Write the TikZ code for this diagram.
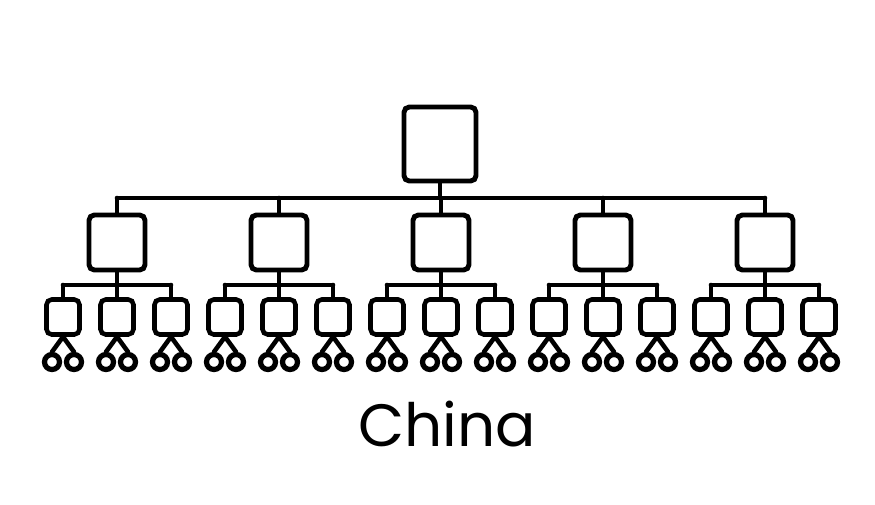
\documentclass[tikz,border=0pt]{standalone}
\usepackage{fontspec}
\setsansfont{Poppins}

\begin{document}
\begin{tikzpicture}[x=0.02cm, y=-0.02cm, line width=2.6pt, line cap=round,
  headbox/.style={draw, rectangle, rounded corners=3pt, line width=2.8pt, minimum width=1.44cm, minimum height=1.48cm},
  branchbox/.style={draw, rectangle, rounded corners=3pt, line width=2.8pt, minimum width=1.12cm, minimum height=1.1cm},
  twigbox/.style={draw, rectangle, rounded corners=3pt, minimum width=0.66cm, minimum height=0.7cm},
  leaf/.style={draw, circle, inner sep=0pt, line width=3pt, minimum size=0.3cm}]
  \useasboundingbox (0,0) rectangle (875,504);
  \coordinate (bus) at (0,198);
  \coordinate (rail) at (0,285);
  \node[headbox] (head) at (440,144) {};
  \draw (head.south) -- (head |- bus);
  \foreach \p in {1,...,5} {
    \node[branchbox] (b\p) at ({117+162*(\p-1)},242.5) {};
    \draw (b\p.north) -- (b\p |- bus);
    \draw (b\p.south) -- (b\p |- rail);
    \foreach \c in {1,2,3} {
      \node[twigbox] (t\p\c) at ({63+162*(\p-1)+54*(\c-1)},317) {};
      \node[leaf] (l\p\c a) at ({63+162*(\p-1)+54*(\c-1)-11},362) {};
      \node[leaf] (l\p\c b) at ({63+162*(\p-1)+54*(\c-1)+11},362) {};
      \draw (t\p\c.north) -- (t\p\c |- rail);
      \draw (t\p\c.south) -- (l\p\c a.north);
      \draw (t\p\c.south) -- (l\p\c b.north);
    }
    \draw (t\p1 |- rail) -- (t\p3 |- rail);
  }
  \draw (b1 |- bus) -- (b5 |- bus);
  \node[font=\sffamily\fontsize{34}{40}\selectfont] (name) at (447,424) {China};
\end{tikzpicture}
\end{document}
